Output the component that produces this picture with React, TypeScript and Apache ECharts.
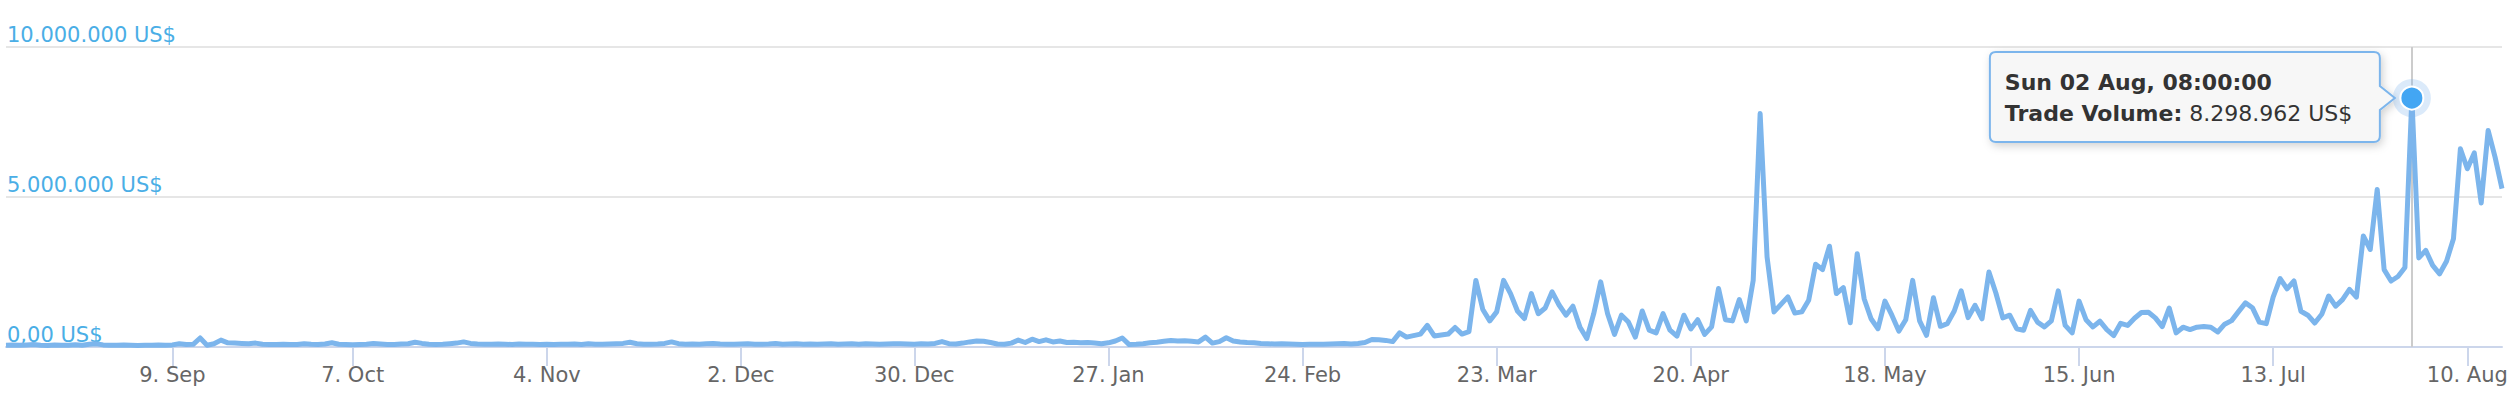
import React, { useEffect, useRef } from 'react';
import * as echarts from 'echarts';

// ---- data ----
const firstDate = '2019-08-16';
const lastDate = '2020-08-15';
const missingDates = ['2019-09-21', '2019-09-22', '2019-12-24', '2019-12-25', '2019-12-26'];
const tickDates = [
  '2019-09-09', '2019-10-07', '2019-11-04', '2019-12-02', '2019-12-30', '2020-01-27',
  '2020-02-24', '2020-03-23', '2020-04-20', '2020-05-18', '2020-06-15', '2020-07-13', '2020-08-10',
];
const yTicks = [0, 5000000, 10000000];
const seriesName = 'Trade Volume';
const highlightDate = '2020-08-02';
const highlightTime = '08:00:00';

const volumes = [
  60000, 70000, 55000, 65000, 80000, 60000, 50000, 70000, 60000, 55000,
  75000, 60000, 90000, 110000, 70000, 60000, 55000, 65000, 60000, 50000,
  60000, 55000, 65000, 60000, 70000, 110000, 80000, 90000, 300000, 60000,
  110000, 230000, 140000, 130000, 120000, 110000, 130000, 90000, 85000, 80000,
  90000, 85000, 80000, 110000, 90000, 80000, 100000, 140000, 90000, 80000,
  75000, 80000, 90000, 120000, 100000, 85000, 80000, 100000, 110000, 160000,
  120000, 90000, 80000, 90000, 110000, 130000, 170000, 120000, 100000, 95000,
  90000, 100000, 90000, 85000, 100000, 95000, 90000, 85000, 90000, 80000,
  95000, 90000, 100000, 85000, 110000, 95000, 90000, 100000, 110000, 120000,
  160000, 110000, 95000, 90000, 100000, 120000, 170000, 110000, 95000, 100000,
  90000, 110000, 120000, 100000, 90000, 95000, 100000, 110000, 95000, 90000,
  100000, 120000, 95000, 100000, 110000, 95000, 100000, 90000, 100000, 110000,
  95000, 100000, 105000, 95000, 110000, 100000, 95000, 100000, 105000, 110000,
  100000, 95000, 110000, 100000, 120000, 180000, 110000, 100000, 130000, 170000,
  200000, 190000, 150000, 100000, 90000, 130000, 230000, 150000, 260000, 180000,
  240000, 170000, 200000, 150000, 160000, 140000, 150000, 130000, 110000, 140000,
  200000, 300000, 80000, 90000, 110000, 140000, 160000, 190000, 220000, 200000,
  210000, 190000, 170000, 330000, 130000, 180000, 310000, 200000, 170000, 150000,
  140000, 120000, 110000, 100000, 110000, 100000, 90000, 85000, 90000, 95000,
  90000, 100000, 110000, 120000, 100000, 120000, 150000, 250000, 240000, 220000,
  180000, 470000, 330000, 380000, 430000, 720000, 370000, 400000, 430000, 650000,
  430000, 510000, 2220000, 1250000, 870000, 1170000, 2220000, 1780000, 1200000, 950000,
  1780000, 1110000, 1300000, 1840000, 1400000, 1060000, 1360000, 670000, 280000, 1110000,
  2170000, 1110000, 420000, 1060000, 830000, 330000, 1200000, 560000, 470000, 1110000,
  560000, 360000, 1060000, 600000, 910000, 420000, 670000, 1950000, 910000, 870000,
  1580000, 870000, 2220000, 7780000, 3000000, 1170000, 1420000, 1670000, 1130000, 1170000,
  1560000, 2760000, 2580000, 3360000, 1780000, 1980000, 810000, 3110000, 1610000, 940000,
  610000, 1530000, 1060000, 530000, 910000, 2220000, 870000, 390000, 1640000, 690000,
  780000, 1200000, 1870000, 980000, 1390000, 940000, 2500000, 1800000, 970000, 1060000,
  610000, 560000, 1220000, 830000, 670000, 870000, 1870000, 720000, 470000, 1530000,
  910000, 670000, 860000, 580000, 380000, 790000, 720000, 960000, 1150000, 1160000,
  970000, 680000, 1300000, 470000, 660000, 580000, 660000, 680000, 660000, 500000,
  760000, 880000, 1180000, 1470000, 1310000, 830000, 780000, 1670000, 2280000, 1940000,
  2200000, 1190000, 1060000, 800000, 1090000, 1700000, 1360000, 1580000, 1920000, 1660000,
  3700000, 3250000, 5250000, 2580000, 2200000, 2350000, 2650000, 8298962, 2970000, 3220000,
  2720000, 2440000, 2860000, 3610000, 6610000, 5940000, 6470000, 4800000, 7220000, 6330000, 5280000,
];

const MONTHS = ['Jan', 'Feb', 'Mar', 'Apr', 'May', 'Jun', 'Jul', 'Aug', 'Sep', 'Oct', 'Nov', 'Dec'];
const WEEKDAYS = ['Sun', 'Mon', 'Tue', 'Wed', 'Thu', 'Fri', 'Sat'];

function buildDates(): string[] {
  const out: string[] = [];
  const [y0, m0, d0] = firstDate.split('-').map(Number);
  const [y1, m1, d1] = lastDate.split('-').map(Number);
  const d = new Date(Date.UTC(y0, m0 - 1, d0));
  const end = Date.UTC(y1, m1 - 1, d1);
  while (d.getTime() <= end) {
    const s = d.toISOString().slice(0, 10);
    if (!missingDates.includes(s)) out.push(s);
    d.setUTCDate(d.getUTCDate() + 1);
  }
  return out;
}

function fmtMoney(v: number): string {
  if (v === 0) return '0,00 US$';
  return String(Math.round(v)).replace(/\B(?=(\d{3})+(?!\d))/g, '.') + ' US$';
}

function fmtTick(s: string): string {
  const [, m, d] = s.split('-').map(Number);
  return `${d}. ${MONTHS[m - 1]}`;
}

function fmtHeader(s: string): string {
  const [y, m, d] = s.split('-').map(Number);
  const wd = WEEKDAYS[new Date(Date.UTC(y, m - 1, d)).getUTCDay()];
  return `${wd} ${String(d).padStart(2, '0')} ${MONTHS[m - 1]}, ${highlightTime}`;
}

const FONT = '"DejaVu Sans", "Lucida Grande", Arial, sans-serif';

// tooltip callout outline (box 390x90 with a right pointer)
const BOX_W = 390;
const BOX_H = 90;
const CALLOUT_D =
  `M 6 0 L ${BOX_W - 6} 0 Q ${BOX_W} 0 ${BOX_W} 6 L ${BOX_W} 34 L ${BOX_W + 15} 46 L ${BOX_W} 58 ` +
  `L ${BOX_W} ${BOX_H - 6} Q ${BOX_W} ${BOX_H} ${BOX_W - 6} ${BOX_H} L 6 ${BOX_H} Q 0 ${BOX_H} 0 ${BOX_H - 6} ` +
  `L 0 6 Q 0 0 6 0 Z`;
let registered = false;

export default function App() {
  const ref = useRef<HTMLDivElement>(null);

  useEffect(() => {
    if (!ref.current) return;
    if (!registered) {
      echarts.graphic.registerShape('calloutBox', echarts.graphic.extendPath(CALLOUT_D, {}) as any);
      registered = true;
    }
    const chart = echarts.init(ref.current, null, { renderer: 'svg' });
    const dates = buildDates();
    const hiIdx = dates.indexOf(highlightDate);
    const hiVal = volumes[hiIdx];
    const isTick = (_i: number, v: string) => tickDates.includes(v);

    chart.setOption({
      animation: false,
      grid: { left: 6, right: 16, top: 47, bottom: 73, containLabel: false },
      xAxis: {
        type: 'category',
        data: dates,
        boundaryGap: false,
        axisLine: { show: true, lineStyle: { color: '#ccd6eb', width: 2 } },
        axisTick: { show: true, length: 19, interval: isTick, lineStyle: { color: '#ccd6eb', width: 2 } },
        axisLabel: {
          interval: isTick,
          formatter: fmtTick,
          color: '#666666',
          fontSize: 21,
          fontFamily: FONT,
          margin: 17,
        },
        splitLine: { show: false },
      },
      yAxis: {
        type: 'value',
        min: yTicks[0],
        max: yTicks[yTicks.length - 1],
        interval: yTicks[1] - yTicks[0],
        axisLine: { show: false },
        axisTick: { show: false },
        splitLine: { show: true, lineStyle: { color: '#e6e6e6', width: 2 } },
        axisLabel: {
          inside: true,
          margin: 1,
          verticalAlign: 'bottom',
          color: '#4aaee6',
          fontSize: 21,
          fontFamily: FONT,
          formatter: (v: number) => fmtMoney(v),
          padding: [0, 0, 2, 0],
        },
      },
      series: [
        {
          type: 'line',
          name: seriesName,
          data: volumes,
          showSymbol: false,
          symbol: 'none',
          lineStyle: { color: '#7cb5ec', width: 5, join: 'round' },
          itemStyle: { color: '#7cb5ec' },
          z: 3,
          markLine: {
            silent: true,
            symbol: ['none', 'none'],
            label: { show: false },
            lineStyle: { color: '#cccccc', width: 2, type: 'solid' },
            data: [{ xAxis: highlightDate }],
            z: 1,
          },
          markPoint: {
            silent: true,
            label: { show: false },
            data: [
              {
                coord: [hiIdx, hiVal],
                symbol: 'circle',
                symbolSize: 38,
                itemStyle: { color: 'rgba(124,181,236,0.28)' },
              },
              {
                coord: [hiIdx, hiVal],
                symbol: 'circle',
                symbolSize: 23,
                itemStyle: { color: '#43a6f3', borderColor: '#ffffff', borderWidth: 2 },
              },
            ],
          },
        },
      ],
    });

    const [px, py] = chart.convertToPixel({ seriesIndex: 0 }, [hiIdx, hiVal]) as number[];
    const boxRight = px - 32;
    const boxLeft = boxRight - BOX_W;
    const boxTop = py - 46;
    chart.setOption({
      graphic: [
        {
          type: 'group',
          z: 100,
          children: [
            {
              type: 'calloutBox',
              x: boxLeft,
              y: boxTop,
              style: {
                fill: '#f7f7f7',
                stroke: '#7cb5ec',
                lineWidth: 2,
                shadowBlur: 8,
                shadowColor: 'rgba(0,0,0,0.18)',
                shadowOffsetX: 2,
                shadowOffsetY: 3,
              },
            },
            {
              type: 'text',
              x: boxLeft + 15,
              y: boxTop + 30,
              style: {
                text: fmtHeader(highlightDate),
                fontFamily: FONT,
                fontSize: 22,
                fontWeight: 'bold',
                fill: '#333333',
                verticalAlign: 'middle',
              },
            },
            {
              type: 'text',
              x: boxLeft + 15,
              y: boxTop + 61,
              style: {
                text: `{b|${seriesName}:} {n|${fmtMoney(hiVal)}}`,
                fontFamily: FONT,
                fontSize: 22,
                fill: '#333333',
                verticalAlign: 'middle',
                rich: {
                  b: { fontFamily: FONT, fontSize: 22, fontWeight: 'bold', fill: '#333333' },
                  n: { fontFamily: FONT, fontSize: 22, fill: '#333333' },
                },
              },
            },
          ],
        },
      ],
    });

    return () => chart.dispose();
  }, []);

  return (
    <div
      ref={ref}
      style={{ position: 'absolute', left: 0, top: 0, width: 2518, height: 420, background: '#ffffff' }}
    />
  );
}
